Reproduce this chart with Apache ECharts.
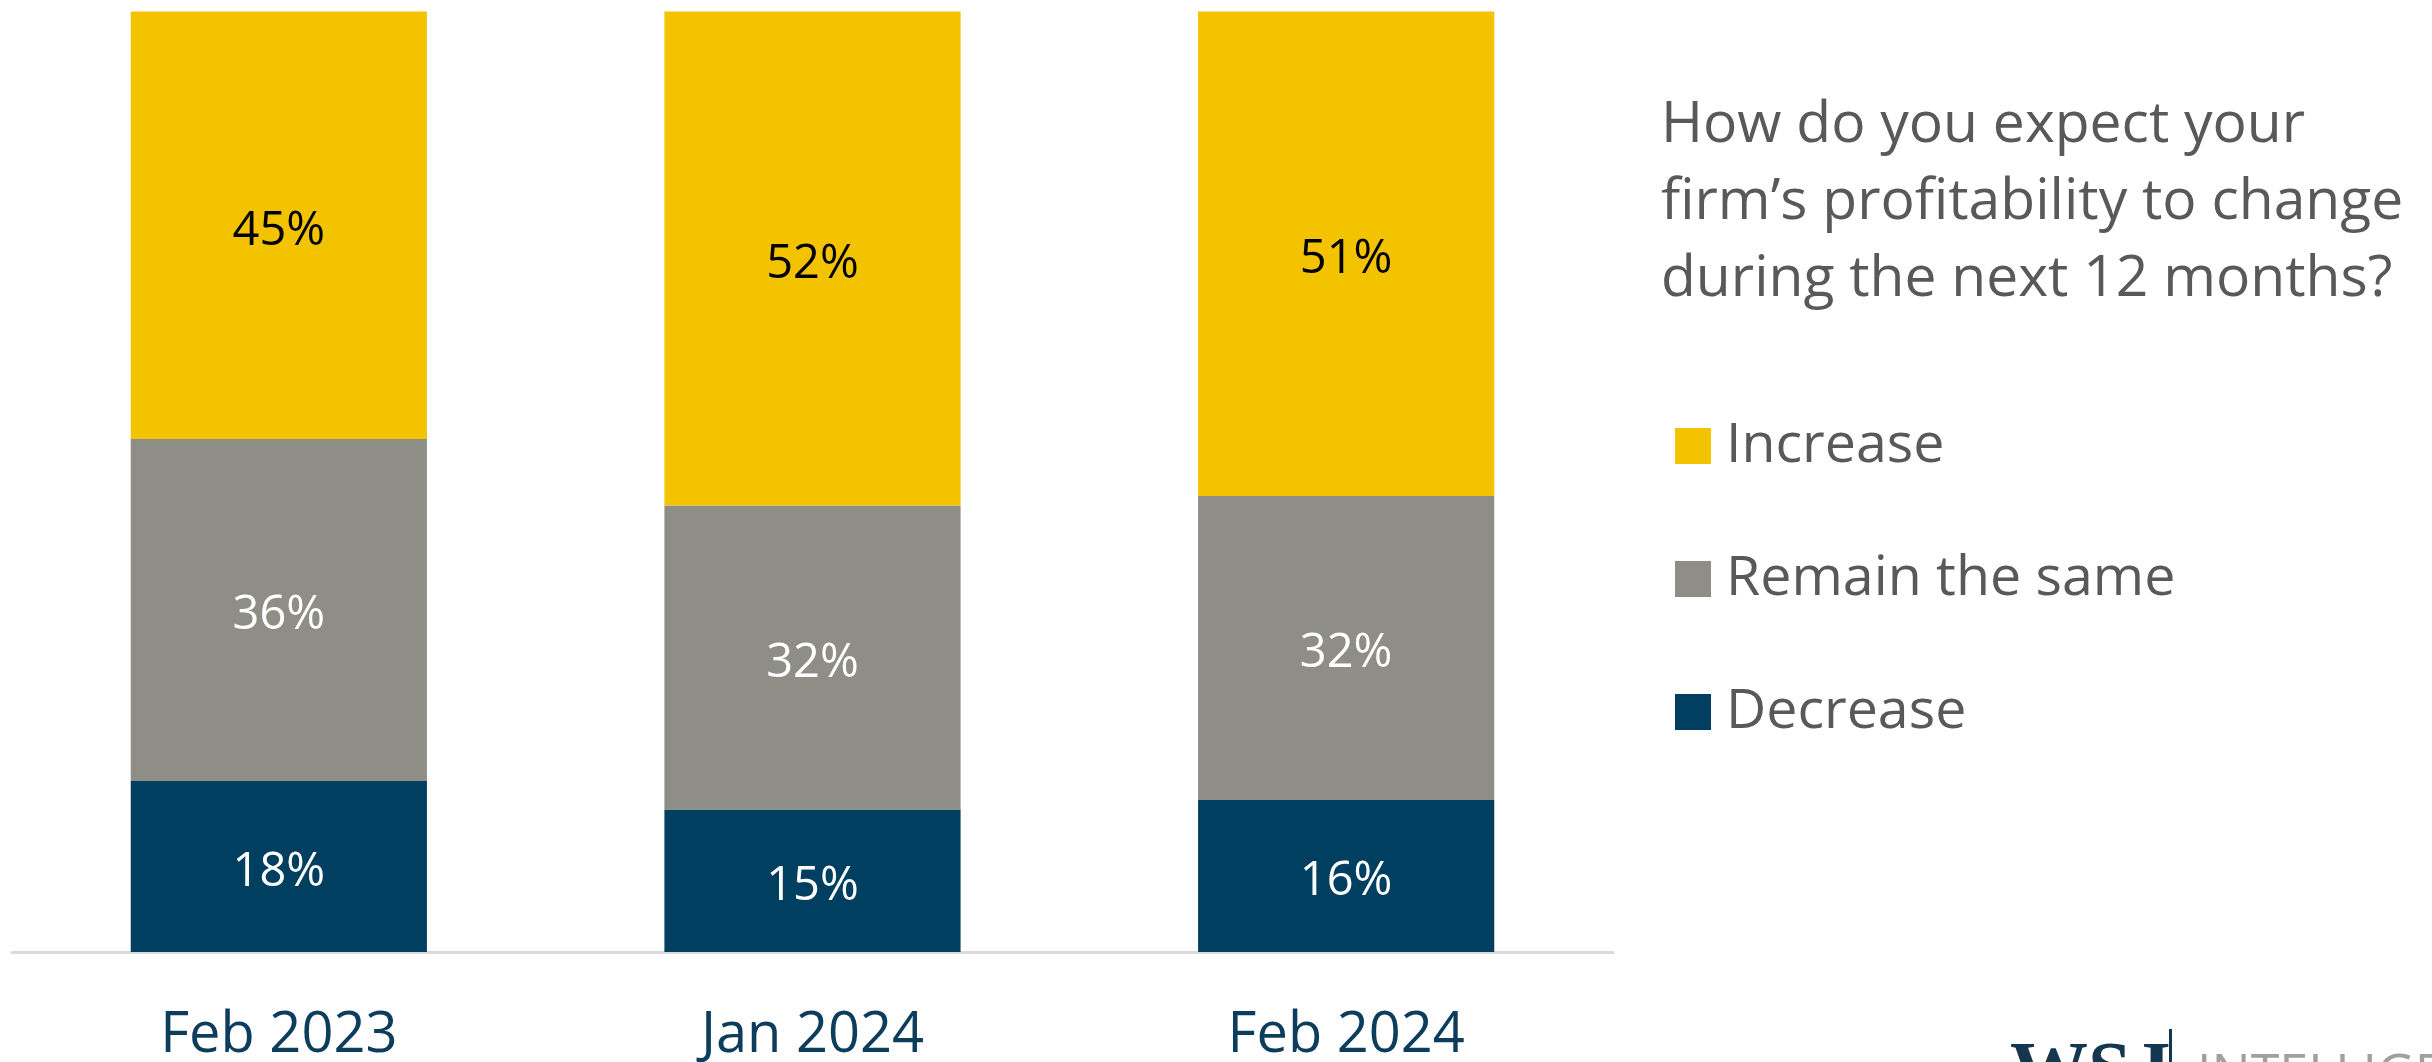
<!DOCTYPE html>
<html>
<head>
<meta charset="utf-8">
<script src="https://cdn.jsdelivr.net/npm/echarts@6/dist/echarts.min.js"></script>
<style>
html,body{margin:0;padding:0;background:#fff;}
#chart{width:2432px;height:1062px;}
</style>
</head>
<body>
<div id="chart"></div>
<script>
const categories = ['Feb 2023', 'Jan 2024', 'Feb 2024'];
const decrease = [18, 15, 16];
const remain = [36, 32, 32];
const increase = [45, 52, 51];
const seriesNames = ['Increase', 'Remain the same', 'Decrease'];
const titleText = 'How do you expect your\nfirm\u2019s profitability to change\nduring the next 12 months?';

const FONT = 'Open Sans';
const chart = echarts.init(document.getElementById('chart'));
const labelFmt = p => p.value + '%';
function seg(name, data, color, labelColor) {
  return {
    name: name, type: 'bar', stack: 'total', data: data,
    barWidth: '55.5%',
    itemStyle: { color: color },
    label: { show: true, position: 'inside', formatter: labelFmt, offset: [0, 6],
      color: labelColor, fontFamily: FONT, fontSize: 47 },
    emphasis: { disabled: true }
  };
}
chart.setOption({
  animation: false,
  title: {
    text: titleText, left: 1656, top: 82,
    textStyle: { color: '#595959', fontFamily: FONT, fontSize: 57, fontWeight: 'normal', lineHeight: 77 }
  },
  legend: {
    data: seriesNames, orient: 'vertical', left: 1670, top: 413,
    icon: 'rect', itemWidth: 36, itemHeight: 36, itemGap: 77,
    textStyle: { color: '#595959', fontFamily: FONT, fontSize: 55.5, lineHeight: 54, padding: [0, 0, 0, 10] },
    selectedMode: false
  },
  grid: { left: 12, right: 819, top: 2, bottom: 110, containLabel: false, outerBoundsMode: 'none' },
  xAxis: {
    type: 'category', data: categories,
    axisLine: { lineStyle: { color: '#D9D9D9', width: 3 } },
    axisTick: { show: false },
    axisLabel: { color: '#0D3D5C', fontFamily: FONT, fontSize: 56, lineHeight: 54, margin: 57 }
  },
  yAxis: { type: 'value', min: 0, max: 100, show: false, splitLine: { show: false } },
  series: [
    seg('Decrease', decrease, '#003F5F', '#FFFFFF'),
    seg('Remain the same', remain, '#8E8E86', '#FFFFFF'),
    seg('Increase', increase, '#F3C300', '#000000')
  ],
  graphic: [
    { type: 'text', left: 2010, top: 1036, style: { text: 'WSJ', font: 'bold 78px "Liberation Serif"', fill: '#14374F' } },
    { type: 'rect', shape: { x: 2169, y: 1029, width: 3, height: 40 }, style: { fill: '#14374F' } },
    { type: 'text', left: 2197, top: 1050, style: { text: 'INTELLIGENCE', font: '52px "Open Sans"', fill: '#A0A0A0' } }
  ]
});
</script>
</body>
</html>
